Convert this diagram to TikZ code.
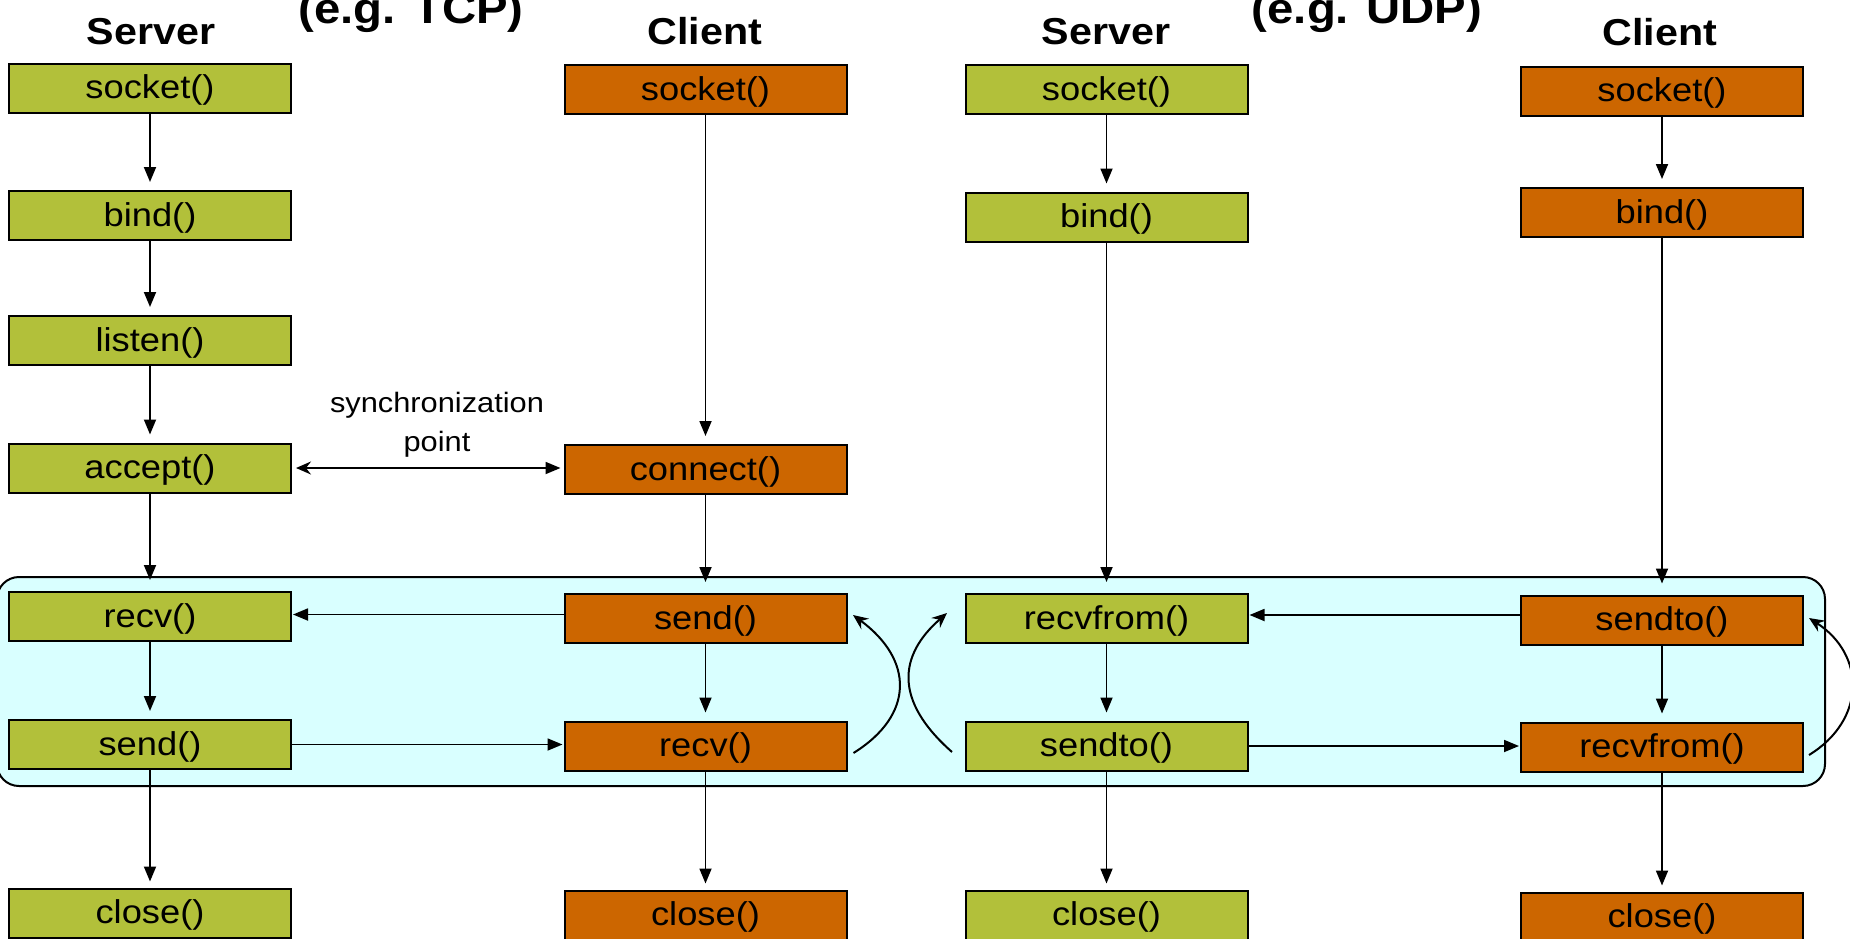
\documentclass[tikz,border=0pt]{standalone}
\usepackage{fontspec}
\setmainfont{Liberation Sans}
\usetikzlibrary{arrows.meta}
\definecolor{boxgreen}{RGB}{178,192,58}
\definecolor{boxorange}{RGB}{204,102,0}
\definecolor{loopblue}{RGB}{217,255,255}
\newcommand\stretchx[1]{\scalebox{1.1}[1]{#1}}
\begin{document}
\begin{tikzpicture}[x=1pt,y=-1pt,
 fn/.style={draw=black,line width=2pt,minimum width=282pt,minimum height=49pt,inner sep=0pt,
   font=\fontsize{33}{40}\selectfont,text height=23pt,text depth=2pt},
 srv/.style={fn,fill=boxgreen},
 cli/.style={fn,fill=boxorange},
 title/.style={anchor=base,inner sep=0pt,font=\fontsize{37.5}{45}\selectfont\bfseries},
 bigtitle/.style={anchor=base,inner sep=0pt,font=\fontsize{43}{50}\selectfont\bfseries},
 varrow/.style={line width=1.8pt,-{Triangle[length=15pt,width=12pt]},shorten >=8pt},
 harrow/.style={line width=1.8pt,-{Triangle[length=15pt,width=12pt]},shorten >=1pt},
 carrow/.style={line width=2pt,-{Stealth[length=15pt,width=13pt,inset=5pt]}},
]
\useasboundingbox (0,0) rectangle (1850,938);
\clip (0,0) rectangle (1850,938);

% loop region
\draw[fill=loopblue,line width=2pt,rounded corners=22pt] (-3,577) rectangle (1825,786);

% titles
\node[title] (t1) at (151,44) {\stretchx{Server}};
\node[title] (t2) at (705,44) {\stretchx{Client}};
\node[bigtitle] (tcp) at (411,23) {\stretchx{(e.g. TCP)}};
\node[title] (t3) at (1106,44) {\stretchx{Server}};
\node[title] (t4) at (1660,45) {\stretchx{Client}};
\node[bigtitle] (udp) at (1367,23) {\stretchx{(e.g. UDP)}};

% column 1: TCP server
\node[srv] (c1socket) at (150,88) {\stretchx{socket()}};
\node[srv] (c1bind) at (150,215.5) {\stretchx{bind()}};
\node[srv] (c1listen) at (150,340.5) {\stretchx{listen()}};
\node[srv] (c1accept) at (150,468) {\stretchx{accept()}};
\node[srv] (c1recv) at (150,616.5) {\stretchx{recv()}};
\node[srv] (c1send) at (150,744.5) {\stretchx{send()}};
\node[srv] (c1close) at (150,913) {\stretchx{close()}};

% column 2: TCP client
\node[cli] (c2socket) at (705.5,89.5) {\stretchx{socket()}};
\node[cli] (c2connect) at (705.5,469.5) {\stretchx{connect()}};
\node[cli] (c2send) at (705.5,618.5) {\stretchx{send()}};
\node[cli] (c2recv) at (705.5,746) {\stretchx{recv()}};
\node[cli] (c2close) at (705.5,915) {\stretchx{close()}};

% column 3: UDP server
\node[srv] (c3socket) at (1106.5,89.5) {\stretchx{socket()}};
\node[srv] (c3bind) at (1106.5,217) {\stretchx{bind()}};
\node[srv] (c3recvfrom) at (1106.5,618.5) {\stretchx{recvfrom()}};
\node[srv] (c3sendto) at (1106.5,746) {\stretchx{sendto()}};
\node[srv] (c3close) at (1106.5,915) {\stretchx{close()}};

% column 4: UDP client
\node[cli] (c4socket) at (1662,91) {\stretchx{socket()}};
\node[cli] (c4bind) at (1662,212.5) {\stretchx{bind()}};
\node[cli] (c4sendto) at (1662,620) {\stretchx{sendto()}};
\node[cli] (c4recvfrom) at (1662,747) {\stretchx{recvfrom()}};
\node[cli] (c4close) at (1662,917) {\stretchx{close()}};

% vertical flow
\draw[varrow] (c1socket) -- (c1bind);
\draw[varrow] (c1bind) -- (c1listen);
\draw[varrow] (c1listen) -- (c1accept);
\draw[varrow,shorten >=11pt] (c1accept) -- (c1recv);
\draw[varrow] (c1recv) -- (c1send);
\draw[varrow,shorten >=6pt] (c1send) -- (c1close);

\draw[varrow] (c2socket) -- (c2connect);
\draw[varrow,shorten >=11pt] (c2connect) -- (c2send);
\draw[varrow] (c2send) -- (c2recv);
\draw[varrow,shorten >=6pt] (c2recv) -- (c2close);

\draw[varrow] (c3socket) -- (c3bind);
\draw[varrow,shorten >=11pt] (c3bind) -- (c3recvfrom);
\draw[varrow] (c3recvfrom) -- (c3sendto);
\draw[varrow,shorten >=6pt] (c3sendto) -- (c3close);

\draw[varrow] (c4socket) -- (c4bind);
\draw[varrow,shorten >=11pt] (c4bind) -- (c4sendto);
\draw[varrow] (c4sendto) -- (c4recvfrom);
\draw[varrow,shorten >=6pt] (c4recvfrom) -- (c4close);

% synchronization
\node[align=center,inner sep=0pt,font=\fontsize{28}{39}\selectfont] (sync) at (437,425)
  {\stretchx{synchronization}\\\stretchx{point}};
\draw[line width=1.8pt,{Stealth[length=15pt,width=13pt,inset=5pt]}-{Triangle[length=15pt,width=12pt]},
  shorten <=4pt,shorten >=3pt] (c1accept.east) -- (c1accept.east -| c2connect.west);

% horizontal messages
\coordinate (m1) at ([yshift=4pt]c2send.west);
\draw[harrow] (m1) -- (m1 -| c1recv.east);
\draw[harrow] (c1send.east) -- (c1send.east -| c2recv.west);
\coordinate (m3) at ([yshift=5pt]c4sendto.west);
\draw[harrow] (m3) -- (m3 -| c3recvfrom.east);
\draw[harrow] (c3sendto.east) -- (c3sendto.east -| c4recvfrom.west);

% loop-back arrows
\draw[carrow] ([shift={(6,7)}]c2recv.east) .. controls +(61,-38) and +(61,45) .. ([shift={(5.5,-3.5)}]c2send.east);
\draw[carrow] ([shift={(-12.5,6)}]c3sendto.west) .. controls +(-59,-52) and +(-48,42) .. ([shift={(-17.5,-5.5)}]c3recvfrom.west);
\draw[carrow] ([shift={(5,8)}]c4recvfrom.east) .. controls +(57,-35) and +(57,37) .. ([shift={(5,-2)}]c4sendto.east);
\end{tikzpicture}
\end{document}
